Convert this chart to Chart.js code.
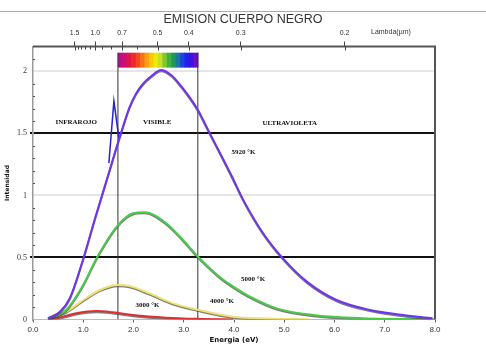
<!DOCTYPE html>
<html>
<head>
<meta charset="utf-8">
<script src="https://cdn.jsdelivr.net/npm/chart.js@4.4.1/dist/chart.umd.min.js"></script>
<style>
  html, body { margin: 0; padding: 0; background: #fff; }
</style>
</head>
<body>
<canvas id="grafico" width="486" height="349"></canvas>
<script>
// Curvas de emision (energia en eV, intensidad relativa)
const energia5920 = [0.30, 0.53, 0.73, 1.00, 1.23, 1.47, 1.71, 1.92, 2.05, 2.19, 2.35, 2.55, 2.75, 2.95, 3.10, 3.28, 3.52, 3.75, 3.95, 4.19, 4.58, 4.98, 5.45, 6.04, 6.71, 7.24, 7.95];
const intens5920 = [0.01, 0.06, 0.17, 0.49, 0.81, 1.13, 1.45, 1.71, 1.82, 1.90, 1.96, 2.01, 1.97, 1.88, 1.80, 1.69, 1.50, 1.32, 1.16, 0.96, 0.695, 0.49, 0.305, 0.157, 0.077, 0.042, 0.01];

const energia5000 = [0.30, 0.66, 1.00, 1.26, 1.69, 1.99, 2.22, 2.65, 2.99, 3.30, 3.71, 3.95, 4.32, 4.85, 5.58, 6.57, 8.00];
const intens5000 = [0.01, 0.077, 0.28, 0.49, 0.76, 0.856, 0.865, 0.776, 0.64, 0.50, 0.345, 0.275, 0.184, 0.09, 0.036, 0.01, 0.002];

const energia4000 = [0.30, 0.66, 1.00, 1.33, 1.69, 1.92, 2.32, 2.79, 3.30, 3.98, 4.60, 5.50];
const intens4000 = [0.01, 0.063, 0.157, 0.238, 0.278, 0.27, 0.21, 0.13, 0.077, 0.023, 0.008, 0.002];

const energia3000 = [0.35, 0.60, 0.86, 1.26, 1.59, 1.99, 2.65, 3.32, 3.98];
const intens3000 = [0.0, 0.023, 0.05, 0.068, 0.058, 0.036, 0.015, 0.005, 0.0];

// pico azul junto al borde del visible
const energiaPico = [1.51, 1.61, 1.71];
const intensPico = [1.26, 1.76, 1.46];

// eje superior en longitud de onda (um)
const lambdaMayor = [1.5, 1.0, 0.7, 0.5, 0.4, 0.3, 0.2];
const lambdaMenor = [1.4, 1.3, 1.2, 1.1, 0.9, 0.8, 0.6];

const ticksEnergia = [0, 1, 2, 3, 4, 5, 6, 7, 8];
const ticksIntensidad = [0, 0.5, 1, 1.5, 2];

// limites de la zona visible (eV) y franja de colores
const limitesVisible = [1.69, 3.28];
const franjaIntensidad = [2.03, 2.15];
const coloresEspectro = ["#b8108c", "#d0106e", "#e01848", "#f02828", "#f04820", "#f87018", "#f8a010", "#f8c800",
  "#f0e800", "#c8e020", "#80c830", "#40b040", "#209858", "#1878a0", "#1848d8", "#2020f0", "#4010d8", "#6810c0"];

const etiquetas = [
  { texto: "INFRAROJO", x: 0.86, y: 1.59 },
  { texto: "VISIBLE", x: 2.47, y: 1.59 },
  { texto: "ULTRAVIOLETA", x: 5.11, y: 1.585 },
  { texto: "5920 °K", x: 4.19, y: 1.35 },
  { texto: "5000 °K", x: 4.38, y: 0.327 },
  { texto: "4000 °K", x: 3.76, y: 0.149 },
  { texto: "3000 °K", x: 2.28, y: 0.117 }
];

const HC = 1.24; // E(eV) = 1.24 / lambda(um)

function puntos(xs, ys) {
  return xs.map((x, i) => ({ x: x, y: ys[i] }));
}

function curva(label, xs, ys, color) {
  return {
    label: label,
    data: puntos(xs, ys),
    borderColor: color,
    borderWidth: 2,
    pointRadius: 0,
    cubicInterpolationMode: "monotone",
    fill: false,
    sombra: true
  };
}

function lineaVertical(e) {
  return {
    data: [{ x: e, y: 0 }, { x: e, y: franjaIntensidad[1] }],
    borderColor: "#333",
    borderWidth: 1,
    pointRadius: 0,
    fill: false
  };
}

// sombra gris debajo de las curvas
const sombraPlugin = {
  id: "sombra",
  beforeDatasetDraw(chart, args) {
    if (chart.data.datasets[args.index].sombra) {
      const ctx = chart.ctx;
      ctx.save();
      ctx.shadowColor = "rgba(70,70,70,0.7)";
      ctx.shadowOffsetX = 0;
      ctx.shadowOffsetY = 1.2;
      ctx.shadowBlur = 0;
    }
  },
  afterDatasetDraw(chart, args) {
    if (chart.data.datasets[args.index].sombra) chart.ctx.restore();
  }
};

const decoracionPlugin = {
  id: "decoracion",
  beforeDraw(chart) {
    const ctx = chart.ctx;
    ctx.save();
    ctx.strokeStyle = "#aaa";
    ctx.lineWidth = 1;
    ctx.beginPath();
    ctx.moveTo(0, 11.5);
    ctx.lineTo(chart.width, 11.5);
    ctx.stroke();
    ctx.restore();
  },
  beforeDatasetsDraw(chart) {
    const ctx = chart.ctx;
    const xs = chart.scales.x, ys = chart.scales.y;
    const area = chart.chartArea;
    ctx.save();
    // franja del espectro visible
    const x0 = xs.getPixelForValue(limitesVisible[0]);
    const x1 = xs.getPixelForValue(limitesVisible[1]);
    const y0 = ys.getPixelForValue(franjaIntensidad[1]);
    const y1 = ys.getPixelForValue(franjaIntensidad[0]);
    const w = (x1 - x0) / coloresEspectro.length;
    coloresEspectro.forEach((c, i) => {
      ctx.fillStyle = c;
      ctx.fillRect(x0 + i * w, y0, w + 0.6, y1 - y0);
    });
    // marcas menores del eje de intensidad
    ctx.strokeStyle = "#555";
    ctx.lineWidth = 1;
    for (let i = 1; i <= 21; i++) {
      if (i % 5 === 0) continue;
      const y = Math.round(ys.getPixelForValue(i / 10)) + 0.5;
      ctx.beginPath();
      ctx.moveTo(area.left, y);
      ctx.lineTo(area.left + 2, y);
      ctx.stroke();
    }
    ctx.restore();
  },
  afterDatasetsDraw(chart) {
    const ctx = chart.ctx;
    const xs = chart.scales.x, ys = chart.scales.y;
    const area = chart.chartArea;
    ctx.save();
    // marco superior y derecho
    ctx.strokeStyle = "#555";
    ctx.lineWidth = 2;
    ctx.beginPath();
    ctx.moveTo(area.left, area.top);
    ctx.lineTo(area.right, area.top);
    ctx.lineTo(area.right, area.bottom);
    ctx.stroke();
    // marcas del eje lambda hacia dentro
    ctx.strokeStyle = "#444";
    ctx.lineWidth = 1;
    lambdaMayor.forEach(l => {
      const x = Math.round(xs.getPixelForValue(HC / l)) + 0.5;
      ctx.beginPath();
      ctx.moveTo(x, area.top);
      ctx.lineTo(x, area.top + 4);
      ctx.stroke();
    });
    lambdaMenor.forEach(l => {
      const x = Math.round(xs.getPixelForValue(HC / l)) + 0.5;
      ctx.beginPath();
      ctx.moveTo(x, area.top);
      ctx.lineTo(x, area.top + 3);
      ctx.stroke();
    });
    // textos dentro del grafico
    ctx.fillStyle = "#111";
    ctx.font = "bold 7px 'Liberation Serif'";
    ctx.textAlign = "center";
    ctx.textBaseline = "middle";
    etiquetas.forEach(e => {
      ctx.fillText(e.texto, xs.getPixelForValue(e.x), ys.getPixelForValue(e.y));
    });
    ctx.fillStyle = "#333";
    ctx.font = "7px 'Liberation Sans'";
    ctx.textAlign = "left";
    ctx.fillText("Lambda(\u00b5m)", 371, 32);
    ctx.restore();
  }
};

function esLineaNegra(v) {
  return v === 0.5 || v === 1.5;
}

const pico = curva("pico", energiaPico, intensPico, "#2424c8");
pico.cubicInterpolationMode = "default";
pico.tension = 0;
pico.borderWidth = 1.5;
pico.sombra = false;

new Chart(document.getElementById("grafico"), {
  type: "line",
  data: {
    datasets: [
      curva("5920 K", energia5920, intens5920, "#7033f0"),
      pico,
      curva("5000 K", energia5000, intens5000, "#48cc48"),
      curva("4000 K", energia4000, intens4000, "#f0e070"),
      curva("3000 K", energia3000, intens3000, "#dd3030"),
      lineaVertical(limitesVisible[0]),
      lineaVertical(limitesVisible[1])
    ]
  },
  options: {
    responsive: false,
    animation: false,
    layout: { padding: 0 },
    plugins: {
      legend: { display: false },
      tooltip: { enabled: false },
      title: {
        display: true,
        text: "EMISION CUERPO NEGRO",
        color: "#333",
        font: { family: "'Liberation Sans'", size: 12.5, weight: "normal" },
        padding: { top: 12.5, bottom: 0 }
      }
    },
    scales: {
      x: {
        type: "linear",
        position: "bottom",
        min: 0,
        max: 8,
        afterBuildTicks: s => { s.ticks = ticksEnergia.map(v => ({ value: v })); },
        ticks: {
          callback: v => Number(v).toFixed(1),
          color: "#333",
          font: { family: "'Liberation Sans'", size: 8 },
          padding: 2,
          maxRotation: 0,
          autoSkip: false
        },
        grid: { drawOnChartArea: false, tickLength: 3, color: "#666" },
        border: { color: "#bbb", width: 1 },
        title: {
          display: true,
          text: "Energia (eV)",
          color: "#111",
          font: { family: "'DejaVu Sans'", size: 7, weight: "bold" },
          padding: { top: 0, bottom: 5 }
        },
        afterFit: s => { s.height = 29.5; }
      },
      xTop: {
        type: "linear",
        position: "top",
        min: 0,
        max: 8,
        afterBuildTicks: s => { s.ticks = lambdaMayor.map(l => ({ value: HC / l })); },
        ticks: {
          callback: (v, i) => lambdaMayor[i].toFixed(1),
          color: "#333",
          font: { family: "'Liberation Sans'", size: 7 },
          padding: 4,
          maxRotation: 0,
          autoSkip: false
        },
        grid: { drawOnChartArea: false, tickLength: 5, color: "#444" },
        border: { display: false },
        afterFit: s => { s.height = 19; }
      },
      y: {
        min: 0,
        max: 2.2,
        afterBuildTicks: s => { s.ticks = ticksIntensidad.map(v => ({ value: v })); },
        ticks: {
          callback: v => String(v),
          color: "#333",
          font: { family: "'Liberation Serif'", size: 8 },
          padding: 3
        },
        grid: {
          color: c => c.tick.value === 0 ? "rgba(0,0,0,0)" : (esLineaNegra(c.tick.value) ? "#111" : "#e6e6e6"),
          lineWidth: 2,
          tickLength: 3,
          tickColor: c => esLineaNegra(c.tick.value) ? "#111" : "rgba(0,0,0,0)"
        },
        border: { color: "#999", width: 1.5 },
        title: {
          display: true,
          text: "Intensidad",
          color: "#111",
          font: { family: "'DejaVu Sans'", size: 6, weight: "bold" },
          padding: { top: 4, bottom: 0 }
        },
        afterFit: s => { s.width = 33; }
      },
      margenDerecho: {
        position: "right",
        display: true,
        grid: { display: false },
        ticks: { display: false },
        border: { display: false },
        afterFit: s => { s.width = 51; }
      }
    }
  },
  plugins: [sombraPlugin, decoracionPlugin]
});
</script>
</body>
</html>
